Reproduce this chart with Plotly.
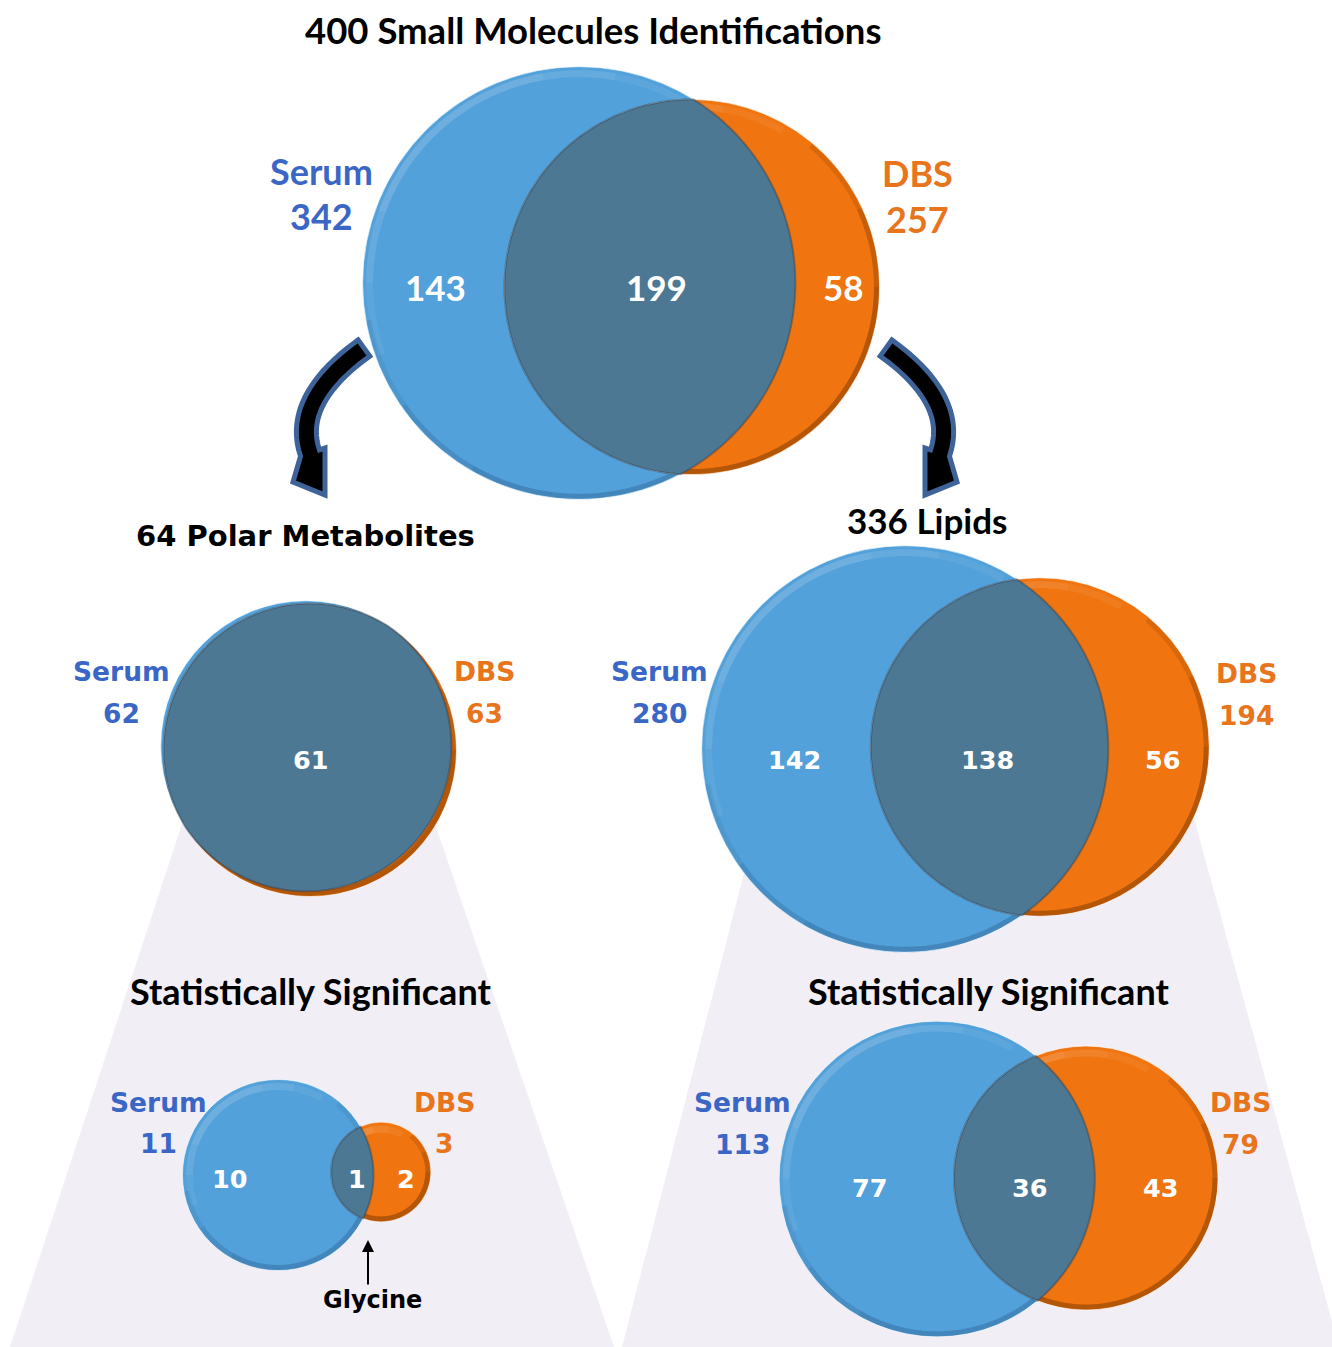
import numpy as np
import plotly.graph_objects as go

# ---------------- data ----------------
panel_titles = ["400 Small Molecules Identifications", "64 Polar Metabolites",
                "336 Lipids", "Statistically Significant", "Statistically Significant"]
serum_total = [342, 62, 280, 11, 113]
dbs_total = [257, 63, 194, 3, 79]
serum_only = [143, None, 142, 10, 77]
shared = [199, 61, 138, 1, 36]
dbs_only = [58, None, 56, 2, 43]
set_names = ["Serum", "DBS"]
note_text = "Glycine"

# ---------------- layout / style ----------------
W, H = 1332, 1347
BLUE, ORANGE, LENS = "#52A1DA", "#F0740F", "#4D7893"
BLUE_TXT, ORANGE_TXT = "#3A66C6", "#E8741C"
LAV = "#F1EEF6"
CAL = "Lato"
VER = "DejaVu Sans"

# per panel: serum centre, dbs centre, radius scale (r = k*sqrt(n))
geo = [
    dict(s=(579, 283), d=(692, 287), k=11.7),
    dict(s=(306, 746), d=(310, 750), k=18.45),
    dict(s=(905, 749), d=(1040, 747), k=12.15),
    dict(s=(278, 1175), d=(381, 1172), k=28.8),
    dict(s=(937, 1179), d=(1086, 1178), k=14.85),
]
# label placement per panel
lab = [
    dict(title=(593, 30, CAL, 36.5), s=(321, 171, 216), d=(917, 173, 219), lf=CAL, ls=36,
         so=(435, 287), sh=(656, 287), do=(843, 287), nf=CAL, ns=35),
    dict(title=(305, 536, VER, 29), s=(121, 671, 713), d=(484, 671, 713), lf=VER, ls=26.5,
         so=None, sh=(311, 760), do=None, nf=VER, ns=25.5),
    dict(title=(927, 520, CAL, 35), s=(659, 671, 713), d=(1246, 673, 715), lf=VER, ls=26.5,
         so=(794, 760), sh=(987, 760), do=(1163, 760), nf=VER, ns=25.5),
    dict(title=(310, 991, CAL, 36), s=(158, 1102, 1143), d=(444, 1102, 1143), lf=VER, ls=26.5,
         so=(230, 1179), sh=(357, 1179), do=(406, 1179), nf=VER, ns=25.5),
    dict(title=(988, 991, CAL, 36), s=(742, 1102, 1144), d=(1240, 1102, 1144), lf=VER, ls=26.5,
         so=(870, 1188), sh=(1030, 1188), do=(1161, 1188), nf=VER, ns=25.5),
]

shapes = []
annotations = []


def poly_path(pts, close=True):
    s = "M " + " L ".join(f"{x:.2f},{y:.2f}" for x, y in pts)
    return s + (" Z" if close else "")


def arc_pts(c, r, a0, a1, n=60):
    t = np.radians(np.linspace(a0, a1, n))
    return [(c[0] + r * np.cos(v), c[1] + r * np.sin(v)) for v in t]


def lens_pts(c1, r1, c2, r2, n=120):
    dx, dy = c2[0] - c1[0], c2[1] - c1[1]
    d = np.hypot(dx, dy)
    phi = np.arctan2(dy, dx)
    a = (r1 ** 2 - r2 ** 2 + d ** 2) / (2 * d)
    t1 = np.arccos(np.clip(a / r1, -1, 1))
    t2 = np.arccos(np.clip((d - a) / r2, -1, 1))
    th1 = np.linspace(phi - t1, phi + t1, n)
    th2 = np.linspace(phi + np.pi - t2, phi + np.pi + t2, n)
    p = [(c1[0] + r1 * np.cos(t), c1[1] + r1 * np.sin(t)) for t in th1]
    p += [(c2[0] + r2 * np.cos(t), c2[1] + r2 * np.sin(t)) for t in th2]
    return p


# ---- lavender zoom trapezoids ----
shapes.append(dict(type="path", xref="x", yref="y", layer="below",
                   path=poly_path([(207, 748), (409, 748), (614, 1347), (10, 1347)]),
                   fillcolor=LAV, line=dict(width=0)))
shapes.append(dict(type="path", xref="x", yref="y", layer="below",
                   path=poly_path([(776, 749), (1175, 749), (1339, 1347), (622, 1347)]),
                   fillcolor=LAV, line=dict(width=0)))


# ---- curved arrows ----
def arrow_poly(mirror=None):
    p0, p1, p2 = np.array([364, 348.]), np.array([292, 400.]), np.array([310, 453.])
    t = np.linspace(0, 1, 40)[:, None]
    pts = (1 - t) ** 2 * p0 + 2 * (1 - t) * t * p1 + t ** 2 * p2
    der = 2 * (1 - t) * (p1 - p0) + 2 * t * (p2 - p1)
    nrm = np.stack([-der[:, 1], der[:, 0]], axis=1)
    nrm /= np.linalg.norm(nrm, axis=1)[:, None]
    hw = 10
    A = pts + nrm * hw
    B = pts - nrm * hw
    head = [(293, 482), (325, 495), (325, 448)]
    poly = [tuple(p) for p in A] + head + [tuple(p) for p in B[::-1]]
    if mirror is not None:
        poly = [(mirror - x, y) for x, y in poly]
    return poly


for m in (None, 1250):
    shapes.append(dict(type="path", xref="x", yref="y", path=poly_path(arrow_poly(m)),
                       fillcolor="black", line=dict(color="#3E6398", width=5)))


# ---- Venn circles ----
def add_circle(c, r, fill, shade_rgb, shade_a):
    shapes.append(dict(type="circle", xref="x", yref="y", x0=c[0] - r, x1=c[0] + r,
                       y0=c[1] - r, y1=c[1] + r, fillcolor=fill,
                       line=dict(color="rgba(255,255,255,0.6)", width=1)))
    # soft bevel built from overlapping arcs (fading ends)
    for a0, a1 in ((160, 300), (180, 280), (200, 260)):
        shapes.append(dict(type="path", xref="x", yref="y",
                           path=poly_path(arc_pts(c, r - 7, a0, a1), close=False),
                           line=dict(color="rgba(255,255,255,0.06)", width=7)))
    for a0, a1 in ((-50, 170), (-25, 145), (0, 120)):
        shapes.append(dict(type="path", xref="x", yref="y",
                           path=poly_path(arc_pts(c, r - 3, a0, a1), close=False),
                           line=dict(color=f"rgba({shade_rgb},{shade_a / 3:.3f})", width=5)))


for i, g in enumerate(geo):
    rs = g["k"] * np.sqrt(serum_total[i])
    rd = g["k"] * np.sqrt(dbs_total[i])
    add_circle(g["s"], rs, BLUE, "30,70,110", 0.3)
    add_circle(g["d"], rd, ORANGE, "90,40,0", 0.45)
    lp = lens_pts(g["s"], rs, g["d"], rd)
    shapes.append(dict(type="path", xref="x", yref="y", path=poly_path(lp),
                       fillcolor=LENS, line=dict(color="rgba(40,60,80,0.4)", width=2)))


# ---- texts ----
def txt(s, x, y, fam, size, color):
    annotations.append(dict(text=f"<b>{s}</b>", x=x, y=y, xref="x", yref="y",
                            showarrow=False, xanchor="center", yanchor="middle",
                            font=dict(family=fam, size=size, color=color)))


for i, L in enumerate(lab):
    tx, ty, tf, ts = L["title"]
    txt(panel_titles[i], tx, ty, tf, ts, "black")
    sx, sy1, sy2 = L["s"]
    txt(set_names[0], sx, sy1, L["lf"], L["ls"], BLUE_TXT)
    txt(str(serum_total[i]), sx, sy2, L["lf"], L["ls"], BLUE_TXT)
    dx_, dy1, dy2 = L["d"]
    txt(set_names[1], dx_, dy1, L["lf"], L["ls"], ORANGE_TXT)
    txt(str(dbs_total[i]), dx_, dy2, L["lf"], L["ls"], ORANGE_TXT)
    for key, val in (("so", serum_only[i]), ("sh", shared[i]), ("do", dbs_only[i])):
        if L[key] is not None and val is not None:
            txt(str(val), L[key][0], L[key][1], L["nf"], L["ns"], "white")

# Glycine pointer
annotations.append(dict(x=368, y=1240, ax=368, ay=1286, xref="x", yref="y",
                        axref="x", ayref="y", text="", showarrow=True,
                        arrowhead=2, arrowsize=1.2, arrowwidth=2, arrowcolor="black"))
txt(note_text, 372, 1300, VER, 24, "black")

fig = go.Figure()
fig.add_trace(go.Scatter(x=[0, W], y=[0, H], mode="markers",
                         marker=dict(opacity=0), hoverinfo="skip", showlegend=False))
fig.update_layout(
    width=W, height=H, margin=dict(l=0, r=0, t=0, b=0),
    paper_bgcolor="white", plot_bgcolor="white",
    xaxis=dict(range=[0, W], visible=False, fixedrange=True),
    yaxis=dict(range=[H, 0], visible=False, fixedrange=True),
    shapes=shapes, annotations=annotations, showlegend=False,
)
fig.write_html("out.html")
